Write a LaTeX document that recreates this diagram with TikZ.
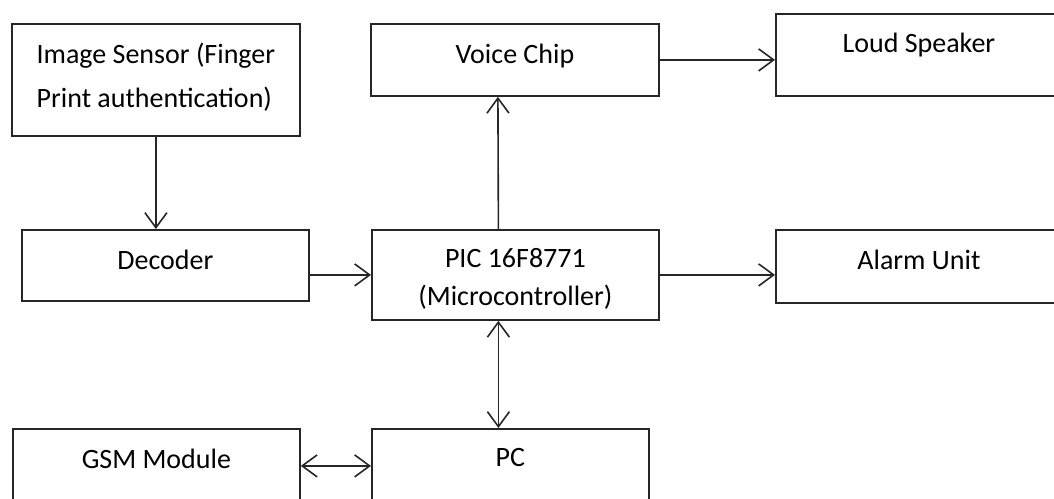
\documentclass[tikz,border=0pt]{standalone}
\usepackage{fontspec}
\setmainfont{Carlito}
\usetikzlibrary{arrows.meta}

\tikzset{
  blk/.style={draw=black!85, line width=1.8pt, inner sep=0pt, anchor=north west,
    font=\fontsize{28}{40}\selectfont},
  arr/.style={line width=1.6pt, draw=black!85, -{Straight Barb[length=15pt,width=22pt]}},
  barr/.style={arr, {Straight Barb[length=15pt,width=22pt]}-{Straight Barb[length=15pt,width=22pt]}}
}

\begin{document}
\begin{tikzpicture}[x=1pt,y=-1pt]
\useasboundingbox (0,0) rectangle (1054,498);
\clip (0,0) rectangle (1054,498);
% blocks
\node[blk,minimum width=288pt,text height=84pt,text depth=28pt,align=left,font=\fontsize{28}{44}\selectfont] (sensor) at (11,23) {Image Sensor (Finger\\Print authentication)};
\node[blk,minimum width=287pt,text height=40pt,text depth=31pt] (decoder) at (21,229) {Decoder};
\node[blk,minimum width=287pt,text height=40pt,text depth=34pt] (gsm) at (12,428) {GSM Module};
\node[blk,minimum width=288pt,text height=40pt,text depth=32pt] (voice) at (370,23) {Voice Chip};
\node[blk,minimum width=287pt,text height=76pt,text depth=14pt,align=center,font=\fontsize{28}{38}\selectfont] (pic) at (371,229) {PIC 16F8771\\(Microcontroller)};
\node[blk,minimum width=277pt,text height=38pt,text depth=36pt] (pc) at (371,428) {PC};
\node[blk,minimum width=286pt,text height=39pt,text depth=43pt] (speaker) at (775,13) {Loud Speaker};
\node[blk,minimum width=286pt,text height=40pt,text depth=33pt] (alarm) at (775,229) {Alarm Unit};
% links
\draw[arr] (sensor.south) -- (sensor.south |- decoder.north);
\draw[arr] (decoder.east |- pic.west) -- (pic.west);
\draw[arr] ([xshift=-17pt]pic.north) -- ([xshift=-17pt]voice.south);
\draw[arr] (voice.east) -- (voice.east -| speaker.west);
\draw[arr] (pic.east) -- (pic.east -| alarm.west);
\draw[barr] ([xshift=-17pt]pic.south) -- ([xshift=-17pt]pic.south |- pc.north);
\draw[barr] (gsm.east) -- (pc.west);
\end{tikzpicture}
\end{document}
